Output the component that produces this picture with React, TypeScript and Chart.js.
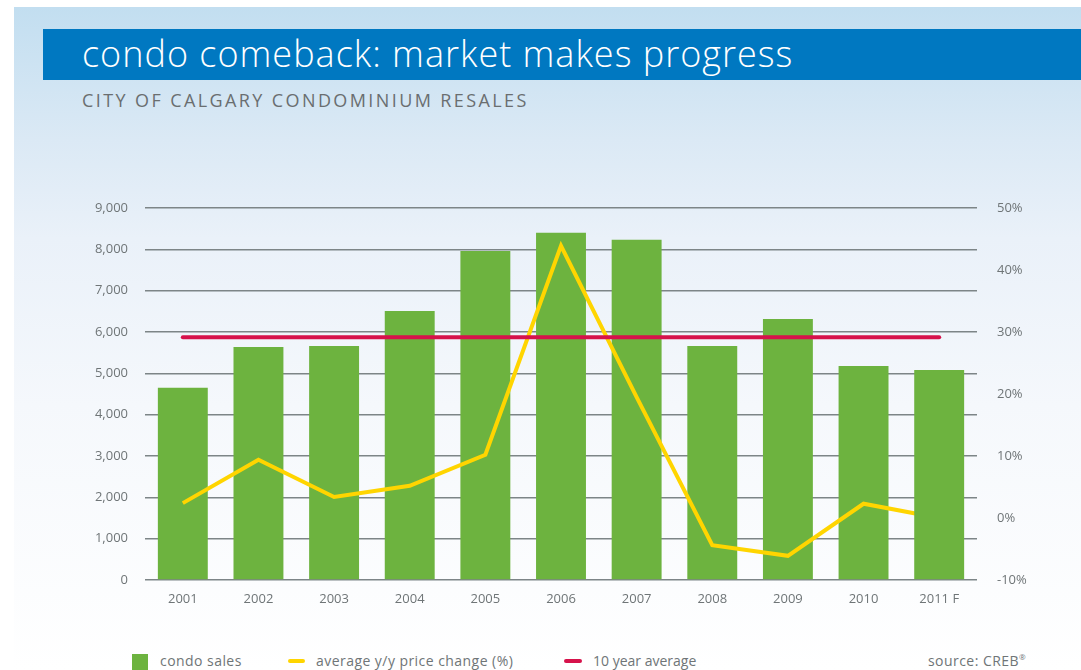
import React, { useEffect, useRef } from "react";
import { Chart, registerables } from "chart.js";

Chart.register(...registerables);

const years = ["2001", "2002", "2003", "2004", "2005", "2006", "2007", "2008", "2009", "2010", "2011 F"];
const condoSales = [4650, 5640, 5660, 6510, 7960, 8400, 8230, 5660, 6315, 5180, 5080];
const priceChange = [2.4, 9.4, 3.4, 5.2, 10.2, 43.9, 19.5, -4.4, -6.1, 2.3, 0.0];
const tenYearAverage = 5870;
const salesTicks = [0, 1000, 2000, 3000, 4000, 5000, 6000, 7000, 8000, 9000];
const pctTicks = [-10, 0, 10, 20, 30, 40, 50];

const GREEN = "#6db33f";
const YELLOW = "#ffd500";
const RED = "#d6124b";
const GRID = "#7d8587";
const TEXT = "#6f7577";
const FONT = "'Open Sans', 'Noto Sans', sans-serif";

function ChartCanvas() {
  const ref = useRef<HTMLCanvasElement | null>(null);
  useEffect(() => {
    if (!ref.current) return;
    const last = years.length - 1;
    const mainBars = condoSales.map((v, i) => (i === last ? null : v));
    const lastBar = condoSales.map((v, i) => (i === last ? v : null));
    const chart = new Chart(ref.current, {
      type: "bar",
      data: {
        labels: years,
        datasets: [
          {
            type: "bar",
            label: "condo sales",
            data: mainBars,
            backgroundColor: GREEN,
            yAxisID: "y",
            barPercentage: 0.66,
            categoryPercentage: 1,
            grouped: false,
            order: 4,
          } as any,
          {
            type: "line",
            label: "average y/y price change (%)",
            data: priceChange,
            borderColor: YELLOW,
            borderWidth: 4,
            pointRadius: 0,
            tension: 0,
            yAxisID: "y1",
            order: 3,
          },
          {
            type: "bar",
            label: "condo sales 2011 F",
            data: lastBar,
            backgroundColor: GREEN,
            yAxisID: "y",
            barPercentage: 0.66,
            categoryPercentage: 1,
            grouped: false,
            order: 2,
          } as any,
          {
            type: "line",
            label: "10 year average",
            data: years.map(() => tenYearAverage),
            borderColor: RED,
            borderWidth: 4,
            borderCapStyle: "round",
            pointRadius: 0,
            yAxisID: "y",
            order: 1,
          },
        ],
      },
      options: {
        animation: false,
        responsive: false,
        devicePixelRatio: 1,
        layout: { padding: { top: 28, left: 0, right: 0, bottom: 0 } },
        plugins: { legend: { display: false }, tooltip: { enabled: false }, title: { display: false } },
        scales: {
          x: {
            grid: { display: false },
            border: { display: false },
            ticks: { color: TEXT, font: { family: FONT, size: 13 }, padding: 3 },
            afterFit: (s: any) => {
              s.height = 40;
            },
          },
          y: {
            position: "left",
            min: salesTicks[0],
            max: salesTicks[salesTicks.length - 1],
            afterBuildTicks: (s: any) => {
              s.ticks = salesTicks.map((v) => ({ value: v }));
            },
            grid: { color: GRID, lineWidth: 1.5, drawTicks: false },
            border: { display: false },
            ticks: {
              color: TEXT,
              font: { family: FONT, size: 13 },
              padding: 17,
              callback: (v: any) => Number(v).toLocaleString("en-US"),
            },
            afterFit: (s: any) => {
              s.width = 145;
            },
          },
          y1: {
            position: "right",
            min: pctTicks[0],
            max: pctTicks[pctTicks.length - 1],
            afterBuildTicks: (s: any) => {
              s.ticks = pctTicks.map((v) => ({ value: v }));
            },
            grid: { display: false, drawTicks: false },
            border: { display: false },
            ticks: {
              color: TEXT,
              font: { family: FONT, size: 13 },
              padding: 20,
              callback: (v: any) => `${v}%`,
            },
            afterFit: (s: any) => {
              s.width = 104;
            },
          },
        },
      },
    });
    return () => chart.destroy();
  }, []);
  return (
    <canvas
      ref={ref}
      width={1081}
      height={440}
      style={{ position: "absolute", left: 0, top: 180, width: 1081, height: 440 }}
    />
  );
}

export default function App() {
  const legendText: React.CSSProperties = {
    position: "absolute",
    top: 652,
    fontFamily: FONT,
    fontSize: 14,
    letterSpacing: 0.45,
    color: TEXT,
    lineHeight: "18px",
    whiteSpace: "nowrap",
  };
  return (
    <div
      style={{
        position: "fixed",
        left: 0,
        top: 0,
        width: 1081,
        height: 670,
        background: "#ffffff",
        overflow: "hidden",
      }}
    >
      <div
        style={{
          position: "absolute",
          left: 14,
          top: 7,
          right: 0,
          bottom: 0,
          background: "linear-gradient(#c2def0 0%, #dbe9f5 20%, #eaf1f9 35%, #f5f8fc 60%, #ffffff 100%)",
        }}
      />
      <div
        style={{
          position: "absolute",
          left: 43,
          top: 29,
          right: 0,
          height: 51,
          background: "#0078c1",
        }}
      />
      <div
        style={{
          position: "absolute",
          left: 82,
          top: 31,
          fontFamily: FONT,
          fontWeight: 300,
          fontSize: 36,
          letterSpacing: 1,
          lineHeight: "46px",
          color: "#ffffff",
          whiteSpace: "nowrap",
        }}
      >
        condo comeback: market makes progress
      </div>
      <div
        style={{
          position: "absolute",
          left: 82,
          top: 89,
          fontFamily: FONT,
          fontSize: 18,
          letterSpacing: 2.4,
          lineHeight: "22px",
          color: "#6a6e70",
          whiteSpace: "nowrap",
        }}
      >
        CITY OF CALGARY CONDOMINIUM RESALES
      </div>
      <ChartCanvas />
      <div style={{ position: "absolute", left: 132, top: 654, width: 16, height: 16, background: GREEN }} />
      <div style={{ ...legendText, left: 160 }}>condo sales</div>
      <div style={{ position: "absolute", left: 288, top: 659, width: 17, height: 4, borderRadius: 2, background: YELLOW }} />
      <div style={{ ...legendText, left: 316 }}>average y/y price change (%)</div>
      <div style={{ position: "absolute", left: 564, top: 659, width: 18, height: 4, borderRadius: 2, background: RED }} />
      <div style={{ ...legendText, left: 593, letterSpacing: 0 }}>10 year average</div>
      <div style={{ ...legendText, left: 928 }}>
        source: CREB<span style={{ fontSize: 8, lineHeight: 0, position: "relative", top: -6 }}>®</span>
      </div>
    </div>
  );
}
